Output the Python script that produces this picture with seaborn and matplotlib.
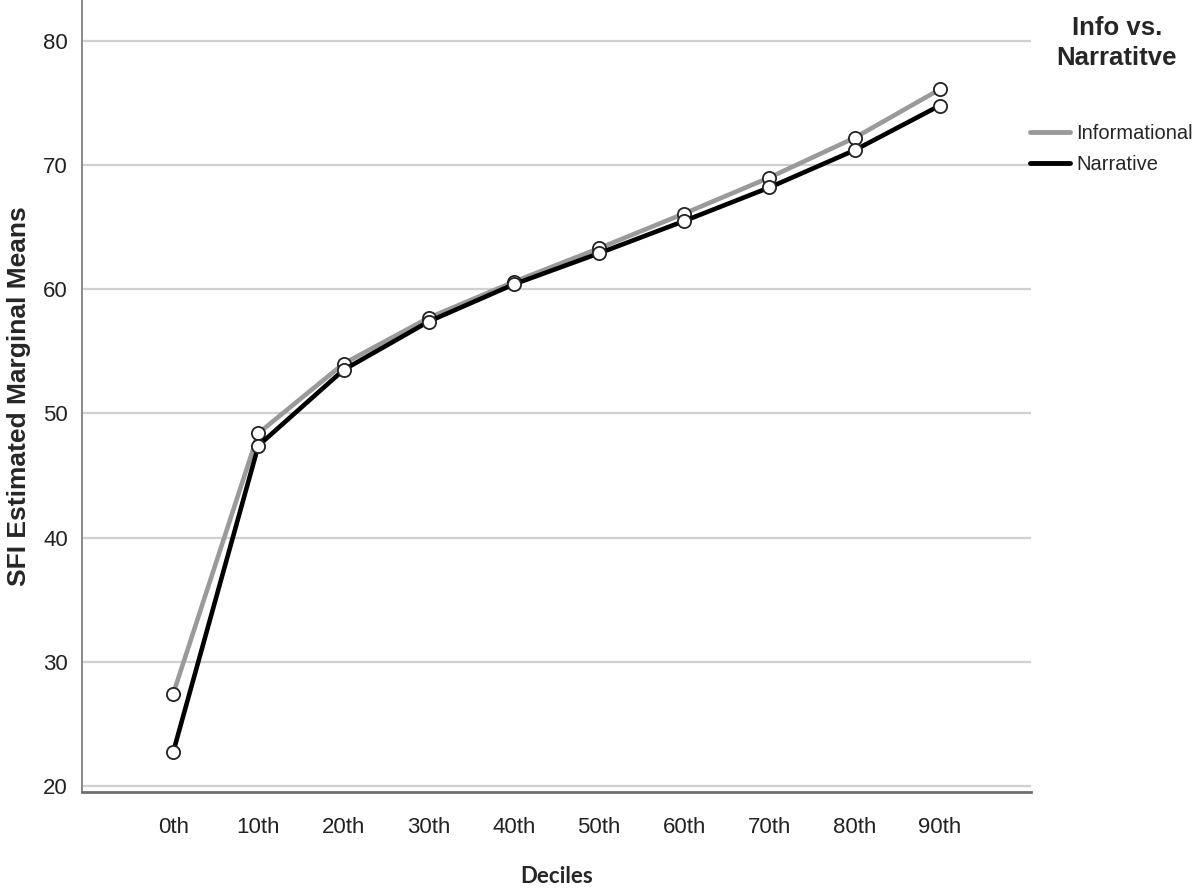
import pandas as pd
import matplotlib
matplotlib.use("Agg")
import matplotlib.pyplot as plt
from matplotlib.lines import Line2D
import seaborn as sns

# Values
deciles = ["0th", "10th", "20th", "30th", "40th", "50th", "60th", "70th", "80th", "90th"]
informational = [27.4, 48.4, 54.0, 57.7, 60.6, 63.3, 66.1, 69.0, 72.2, 76.1]
narrative = [22.7, 47.4, 53.5, 57.4, 60.4, 62.9, 65.5, 68.2, 71.2, 74.8]
groups = ["Informational", "Narrative"]
colors = {"Informational": "#9a9a9a", "Narrative": "#000000"}

df = pd.DataFrame({
    "Deciles": deciles * 2,
    "SFI": informational + narrative,
    "Group": [groups[0]] * len(deciles) + [groups[1]] * len(deciles),
})

sns.set_style("white")
plt.rcParams["font.family"] = ["Liberation Sans", "DejaVu Sans"]

fig = plt.figure(figsize=(12, 8.88), dpi=100)
ax = fig.add_axes([82 / 1200, 96 / 888, (1031 - 82) / 1200, 792 / 888])

sns.lineplot(data=df, x="Deciles", y="SFI", hue="Group", palette=colors,
             sort=False, linewidth=3.3, marker="o", markersize=9.5,
             markerfacecolor="white", markeredgecolor="#222222",
             markeredgewidth=1.3, legend=False, ax=ax)

ax.set_xlim(-1.07, 10.07)
ax.set_ylim(19.5, 83.3)
ax.set_yticks([20, 30, 40, 50, 60, 70, 80])
ax.yaxis.grid(True, color="#d0d0d0", linewidth=1.6)
ax.set_axisbelow(True)

for s in ["top", "right"]:
    ax.spines[s].set_visible(False)
ax.spines["left"].set_color("#8a8a8a")
ax.spines["left"].set_linewidth(1.4)
ax.spines["bottom"].set_color("#6e6e6e")
ax.spines["bottom"].set_linewidth(2.0)

ax.tick_params(axis="both", length=0, labelsize=16, colors="#222222")
ax.tick_params(axis="x", pad=18)
ax.tick_params(axis="y", pad=10)

ax.set_xlabel("Deciles", fontsize=16, fontweight="bold", family=["Lato", "DejaVu Sans"],
              labelpad=20)
ax.set_ylabel("SFI Estimated Marginal Means", fontsize=19, fontweight="bold", labelpad=9)

# Legend title and entries to the right of the plot
fig.text(1117 / 1200, 1 - 16 / 888, "Info vs.\nNarratitve", ha="center", va="top",
         fontsize=18.5, fontweight="bold", linespacing=1.3)
handles = [Line2D([], [], color=colors[g], linewidth=3.5) for g in groups]
fig.legend(handles, groups, loc="upper left", bbox_to_anchor=(1030 / 1200, 1 - 124 / 888),
           frameon=False, fontsize=14.5, handlelength=2.0, handletextpad=0.3,
           labelspacing=0.6, borderaxespad=0, borderpad=0)

fig.savefig("out.png", dpi=100)
